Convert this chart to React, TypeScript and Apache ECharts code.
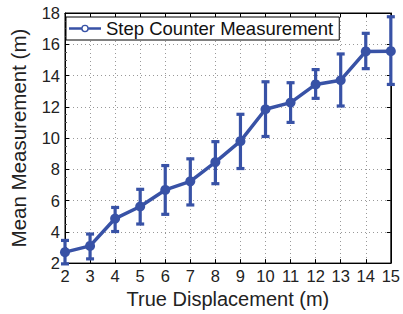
import React, { useEffect, useRef } from "react";
import * as echarts from "echarts";

const displacement = [2, 3, 4, 5, 6, 7, 8, 9, 10, 11, 12, 13, 14, 15];
const meanValues = [2.7, 3.1, 4.85, 5.62, 6.68, 7.23, 8.46, 9.8, 11.84, 12.27, 13.43, 13.7, 15.54, 15.56];
const errLow = [1.95, 2.27, 4.02, 4.5, 5.12, 5.72, 7.08, 8.05, 10.1, 11.0, 12.54, 12.05, 14.44, 13.43];
const errHigh = [3.45, 3.86, 5.56, 6.72, 8.24, 8.67, 9.77, 11.52, 13.6, 13.54, 14.38, 15.38, 16.7, 17.76];

const COLOR = "#3852a6";
const FONT = "'Liberation Sans', Arial, Helvetica, sans-serif";
const LEGEND_ICON =
  "path://M0,9.3h12.3v2.4h-12.3z M19.7,9.3h12.3v2.4h-12.3z M19.8,10.5A3.8,3.8 0 1,1 12.2,10.5A3.8,3.8 0 1,1 19.8,10.5Z M18.4,10.5A2.4,2.4 0 1,0 13.6,10.5A2.4,2.4 0 1,0 18.4,10.5Z";

export default function App() {
  const ref = useRef<HTMLDivElement>(null);
  useEffect(() => {
    if (!ref.current) return;
    const chart = echarts.init(ref.current, undefined, { renderer: "svg" });
    const errData = displacement.map((x, i) => [x, errLow[i], errHigh[i]]);
    const axisLine = { show: true, lineStyle: { color: "#000", width: 1 } };
    const splitLine = { show: true, lineStyle: { color: "#999", type: [1, 3] as any, width: 1 } };
    chart.setOption({
      animation: false,
      textStyle: { fontFamily: FONT },
      grid: { left: 62, right: 8, top: 13, bottom: 49, show: true, borderColor: "#000", borderWidth: 1, backgroundColor: "#fff" },
      legend: {
        show: true,
        left: 66,
        top: 17,
        itemWidth: 32,
        itemHeight: 21,
        itemGap: 4,
        padding: [2, 6, 2, 3],
        borderColor: "#000",
        borderWidth: 1,
        backgroundColor: "#fff",
        textStyle: { fontSize: 18.5, color: "#111", fontFamily: FONT },
        data: [{ name: "Step Counter Measurement", icon: LEGEND_ICON, itemStyle: { color: COLOR } }],
      },
      xAxis: [
        {
          type: "value",
          min: 2,
          max: 15,
          interval: 1,
          name: "True Displacement (m)",
          nameLocation: "middle",
          nameGap: 24,
          nameTextStyle: { fontSize: 20, color: "#222", fontFamily: FONT },
          axisLine,
          axisTick: { show: true, inside: true, length: 4, lineStyle: { color: "#000" } },
          axisLabel: { fontSize: 16.5, color: "#222", margin: 4, fontFamily: FONT },
          splitLine,
        },
        {
          type: "value",
          position: "top",
          min: 2,
          max: 15,
          interval: 1,
          axisLine,
          axisTick: { show: true, inside: true, length: 4, lineStyle: { color: "#000" } },
          axisLabel: { show: false },
          splitLine: { show: false },
        },
      ],
      yAxis: [
        {
          type: "value",
          min: 2,
          max: 18,
          interval: 2,
          name: "Mean Measurement (m)",
          nameLocation: "middle",
          nameGap: 36,
          nameTextStyle: { fontSize: 20.5, color: "#222", fontFamily: FONT },
          axisLine,
          axisTick: { show: true, inside: true, length: 4, lineStyle: { color: "#000" } },
          minorTick: { show: true, splitNumber: 4, length: 2, lineStyle: { color: "#555" } },
          axisLabel: { fontSize: 16.5, color: "#222", margin: 5, fontFamily: FONT },
          splitLine,
        },
        {
          type: "value",
          position: "right",
          min: 2,
          max: 18,
          interval: 2,
          axisLine,
          axisTick: { show: true, inside: true, length: 4, lineStyle: { color: "#000" } },
          axisLabel: { show: false },
          splitLine: { show: false },
        },
      ],
      series: [
        {
          name: "Step Counter Measurement",
          type: "line",
          data: displacement.map((x, i) => [x, meanValues[i]]),
          symbol: "circle",
          symbolSize: 10,
          lineStyle: { color: COLOR, width: 3.5 },
          itemStyle: { color: COLOR },
          z: 3,
        },
        {
          name: "err",
          type: "custom",
          clip: false,
          data: errData,
          z: 2,
          renderItem: (params: any, api: any) => {
            const x = api.value(0);
            const lo = api.coord([x, api.value(1)]);
            const hi = api.coord([x, api.value(2)]);
            const hw = 4;
            const style = { stroke: COLOR, lineWidth: 3.2, fill: "none" };
            return {
              type: "group",
              children: [
                { type: "line", shape: { x1: lo[0], y1: lo[1], x2: hi[0], y2: hi[1] }, style },
                { type: "line", shape: { x1: lo[0] - hw, y1: lo[1], x2: lo[0] + hw, y2: lo[1] }, style },
                { type: "line", shape: { x1: hi[0] - hw, y1: hi[1], x2: hi[0] + hw, y2: hi[1] }, style },
              ],
            };
          },
        },
      ],
    });
    return () => chart.dispose();
  }, []);
  return <div ref={ref} style={{ width: 403, height: 314, position: "absolute", left: 0, top: 0 }} />;
}
